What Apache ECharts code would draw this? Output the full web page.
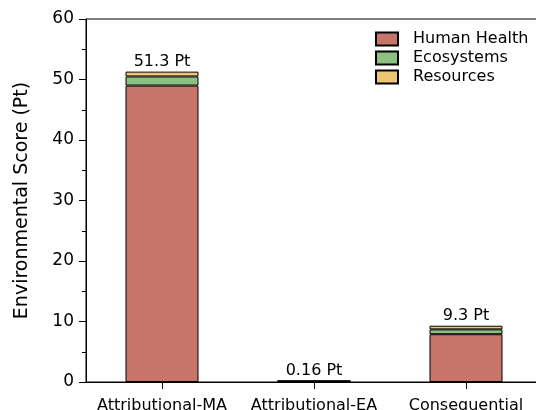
<!DOCTYPE html>
<html><head><meta charset="utf-8">
<script src="https://cdn.jsdelivr.net/npm/echarts@6/dist/echarts.min.js"></script>
<style>html,body{margin:0;padding:0;background:#fff}#c{width:536px;height:410px}</style>
</head><body><div id="c"></div>
<script>
const categories = ['Attributional-MA', 'Attributional-EA', 'Consequential'];
const humanHealth = [49.0, 0.13, 7.9];
const ecosystems = [1.5, 0.02, 0.8];
const resources = [0.8, 0.01, 0.6];
const totalLabels = ['51.3 Pt', '0.16 Pt', '9.3 Pt'];
const yTicks = [0, 10, 20, 30, 40, 50, 60];

const font = 'DejaVu Sans';
const chart = echarts.init(document.getElementById('c'), null, {renderer: 'canvas'});
const mk = (name, data, color, withLabel) => ({
  name, type: 'bar', stack: 'tot', data, barWidth: 73,
  itemStyle: {color, borderColor: '#000', borderWidth: 1},
  label: withLabel ? {show: true, position: 'top', distance: 2, fontFamily: font, fontSize: 16, color: '#000',
    formatter: p => totalLabels[p.dataIndex]} : {show: false},
  emphasis: {disabled: true}
});
chart.setOption({
  animation: false,
  grid: {left: 86, top: 19, bottom: 28, width: 456, outerBoundsMode: 'none', containLabel: false,
    show: true, borderColor: '#000', borderWidth: 1, backgroundColor: 'transparent'},
  legend: {
    orient: 'vertical', left: 370, top: 26, itemGap: 3, itemWidth: 22, itemHeight: 13, icon: 'rect',
    textStyle: {fontFamily: font, fontSize: 16, color: '#000', padding: [0, 0, 0, 10]},
    data: ['Human Health', 'Ecosystems', 'Resources']
  },
  xAxis: {
    type: 'category', data: categories,
    axisLine: {lineStyle: {color: '#000', width: 1}},
    axisTick: {show: true, alignWithLabel: true, length: 7, lineStyle: {color: '#000'}},
    axisLabel: {fontFamily: font, fontSize: 16, color: '#000', margin: 16, interval: 0}
  },
  yAxis: {
    type: 'value', min: yTicks[0], max: yTicks[yTicks.length - 1], interval: 10,
    name: 'Environmental Score (Pt)', nameLocation: 'middle', nameGap: 54,
    nameTextStyle: {fontFamily: font, fontSize: 19, color: '#000'},
    axisLine: {show: true, lineStyle: {color: '#000', width: 1}},
    axisTick: {show: true, length: 7, lineStyle: {color: '#000'}},
    minorTick: {show: true, splitNumber: 2, length: 4, lineStyle: {color: '#000'}},
    splitLine: {show: false},
    axisLabel: {fontFamily: font, fontSize: 17, color: '#000', margin: 12}
  },
  series: [
    mk('Human Health', humanHealth, '#c87468', false),
    mk('Ecosystems', ecosystems, '#8cc182', false),
    mk('Resources', resources, '#eec574', true)
  ]
});
</script></body></html>
